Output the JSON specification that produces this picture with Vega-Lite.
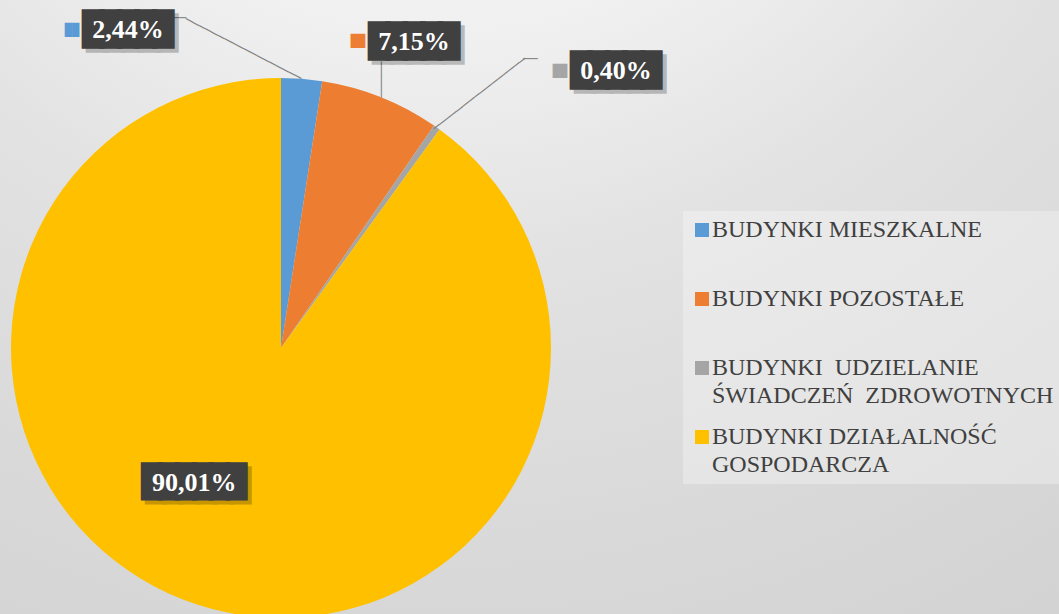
{
  "$schema": "https://vega.github.io/schema/vega-lite/v6.json",
  "width": 1556,
  "height": 696,
  "autosize": {"type": "none"},
  "padding": {"left": -497, "top": 0, "right": 0, "bottom": -82},
  "background": "#e4e4e4",
  "config": {
    "view": {"stroke": null},
    "locale": {"number": {"decimal": ",", "thousands": " ", "grouping": [3], "currency": ["", " zł"]}}
  },
  "data": {
    "values": [
      {"cat": "BUDYNKI MIESZKALNE", "value": 0.0244, "idx": 1},
      {"cat": "BUDYNKI POZOSTAŁE", "value": 0.0715, "idx": 2},
      {"cat": "BUDYNKI UDZIELANIE ŚWIADCZEŃ ZDROWOTNYCH", "value": 0.0040, "idx": 3},
      {"cat": "BUDYNKI DZIAŁALNOŚĆ GOSPODARCZA", "value": 0.9001, "idx": 4}
    ]
  },
  "layer": [
    {
      "data": {"values": [{}]},
      "mark": {
        "type": "rect",
        "fill": {
          "gradient": "radial",
          "x1": 0.6, "y1": 0, "r1": 0,
          "x2": 0.6, "y2": 0, "r2": 1,
          "stops": [
            {"offset": 0, "color": "#fbfbfb"},
            {"offset": 0.2, "color": "#f6f6f6"},
            {"offset": 0.3, "color": "#f0f0f0"},
            {"offset": 0.45, "color": "#e2e2e2"},
            {"offset": 0.65, "color": "#d8d8d8"},
            {"offset": 0.85, "color": "#d0d0d0"},
            {"offset": 1, "color": "#c8c8c8"}
          ]
        }
      },
      "encoding": {}
    },
    {
      "mark": {"type": "arc", "radius": 270},
      "encoding": {
        "theta": {"field": "value", "type": "quantitative", "stack": true},
        "order": {"field": "idx", "type": "quantitative"},
        "color": {
          "field": "cat",
          "type": "nominal",
          "scale": {
            "domain": ["BUDYNKI MIESZKALNE", "BUDYNKI POZOSTAŁE", "BUDYNKI UDZIELANIE ŚWIADCZEŃ ZDROWOTNYCH", "BUDYNKI DZIAŁALNOŚĆ GOSPODARCZA"],
            "range": ["#5b9bd5", "#ed7d31", "#a5a5a5", "#ffc000"]
          },
          "legend": {
            "orient": "none",
            "legendX": 1180,
            "legendY": 211,
            "title": null,
            "padding": 7,
            "fillColor": "rgba(255,255,255,0.3)",
            "symbolType": "square",
            "symbolSize": 196,
            "symbolStrokeWidth": 0,
            "symbolOpacity": 1,
            "labelFont": "Liberation Serif",
            "labelFontSize": 24,
            "labelColor": "#404040",
            "labelLimit": 600,
            "labelOffset": -2,
            "rowPadding": 17,
            "labelBaseline": "top",
            "encoding": {"labels": {"dy": {"value": -12}, "lineHeight": {"value": 28}}},
            "labelExpr": "datum.value == 'BUDYNKI UDZIELANIE ŚWIADCZEŃ ZDROWOTNYCH' ? ['BUDYNKI\u00a0 UDZIELANIE', 'ŚWIADCZEŃ\u00a0 ZDROWOTNYCH'] : datum.value == 'BUDYNKI DZIAŁALNOŚĆ GOSPODARCZA' ? ['BUDYNKI DZIAŁALNOŚĆ', 'GOSPODARCZA'] : [datum.label, '\u00a0']"
          }
        }
      }
    },
    {
      "mark": {
        "type": "text", "radius": 300, "font": "DejaVu Sans Mono", "fontSize": 12,
        "color": "#7f7f7f", "align": "center", "baseline": "middle",
        "text": {"expr": "['──────────────────', '─────', '────────────────', ''][datum.idx - 1]"},
        "angle": {"expr": "[27.4, 90, -37.8, 0][datum.idx - 1]"},
        "dx": {"expr": "[-53.8, 10.3, 25.9, 0][datum.idx - 1]"},
        "dy": {"expr": "[27.7, 10.7, 8.1, 0][datum.idx - 1]"}
      },
      "encoding": {
        "theta": {"field": "value", "type": "quantitative", "stack": true},
        "order": {"field": "idx", "type": "quantitative"},
        "detail": {"field": "cat", "type": "nominal"}
      }
    },
    {
      "mark": {
        "type": "text", "radius": 300, "font": "DejaVu Sans Mono", "fontSize": 12,
        "color": "#7f7f7f", "align": "center", "baseline": "middle",
        "text": {"expr": "['──', '', '──', ''][datum.idx - 1]"},
        "dx": {"expr": "[-125, 0, 76.4, 0][datum.idx - 1]"},
        "dy": {"expr": "[-30.9, 0, -44, 0][datum.idx - 1]"}
      },
      "encoding": {
        "theta": {"field": "value", "type": "quantitative", "stack": true},
        "order": {"field": "idx", "type": "quantitative"},
        "detail": {"field": "cat", "type": "nominal"}
      }
    },
    {
      "mark": {
        "type": "text", "radius": 300, "font": "DejaVu Sans Mono",
        "fontSize": {"expr": "[29, 29, 29, 28][datum.idx - 1]"},
        "fill": "#000000", "stroke": "#000000", "strokeWidth": 5, "strokeJoin": "miter", "opacity": 0.22,
        "align": "center", "baseline": "middle",
        "text": {"expr": "['█████', '█████', '█████', '██████'][datum.idx - 1]"},
        "dx": {"expr": "[-172, 26.3, 165.9, 9.8][datum.idx - 1]"},
        "dy": {"expr": "[-14.9, -23.2, -27.5, -146.3][datum.idx - 1]"}
      },
      "encoding": {
        "theta": {"field": "value", "type": "quantitative", "stack": true},
        "order": {"field": "idx", "type": "quantitative"},
        "detail": {"field": "cat", "type": "nominal"}
      }
    },
    {
      "mark": {
        "type": "text", "radius": 300, "font": "DejaVu Sans Mono",
        "fontSize": {"expr": "[29, 29, 29, 28][datum.idx - 1]"},
        "fill": "#404040", "stroke": "#404040", "strokeWidth": 5, "strokeJoin": "miter",
        "align": "center", "baseline": "middle",
        "text": {"expr": "['█████', '█████', '█████', '██████'][datum.idx - 1]"},
        "dx": {"expr": "[-176, 22.3, 161.9, 5.8][datum.idx - 1]"},
        "dy": {"expr": "[-18.9, -27.2, -31.5, -150.3][datum.idx - 1]"}
      },
      "encoding": {
        "theta": {"field": "value", "type": "quantitative", "stack": true},
        "order": {"field": "idx", "type": "quantitative"},
        "detail": {"field": "cat", "type": "nominal"}
      }
    },
    {
      "mark": {
        "type": "text", "radius": 300, "font": "Liberation Serif", "fontSize": 26, "fontWeight": "bold",
        "color": "#ffffff", "align": "center", "baseline": "middle",
        "dx": {"expr": "[-176, 22.3, 161.9, 5.8][datum.idx - 1]"},
        "dy": {"expr": "[-18.9, -27.2, -31.5, -150.3][datum.idx - 1]"}
      },
      "encoding": {
        "theta": {"field": "value", "type": "quantitative", "stack": true},
        "order": {"field": "idx", "type": "quantitative"},
        "detail": {"field": "cat", "type": "nominal"},
        "text": {"field": "value", "type": "quantitative", "format": ".2%"}
      }
    },
    {
      "mark": {
        "type": "text", "radius": 300, "font": "DejaVu Sans Mono", "fontSize": 12,
        "align": "center", "baseline": "middle",
        "text": {"expr": "['██', '██', '██', ''][datum.idx - 1]"},
        "dx": {"expr": "[-232, -33.7, 105.9, 0][datum.idx - 1]"},
        "dy": {"expr": "[-18.4, -28.2, -32, 0][datum.idx - 1]"}
      },
      "encoding": {
        "theta": {"field": "value", "type": "quantitative", "stack": true},
        "order": {"field": "idx", "type": "quantitative"},
        "color": {"field": "cat", "type": "nominal", "legend": null}
      }
    }
  ]
}
